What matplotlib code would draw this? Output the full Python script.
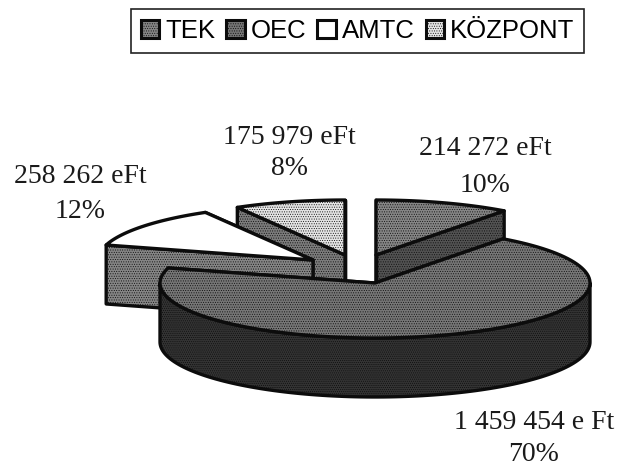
import numpy as np
import matplotlib
matplotlib.use('Agg')
import matplotlib.pyplot as plt
from matplotlib.patches import Polygon, Patch

# adatok
categories = ['TEK', 'OEC', 'AMTC', 'KÖZPONT']
values = [214272, 1459454, 258262, 175979]
amount_labels = ['214 272 eFt', '1 459 454 e Ft', '258 262 eFt', '175 979 eFt']
pct_labels = ['10%', '70%', '12%', '8%']

top_colors = ['#858585', '#767676', '#ffffff', '#e4e4e4']
side_colors = ['#525252', '#333333', '#858585', '#7c7c7c']
top_hatch = ['.......', '.......', None, '.......']
side_hatch = ['.......', '........', '.......', '.......']

# vetites
rx, ry, depth = 215, 55, 59
apex_x = [376, 375, 313, 345]
apex_y = [255, 283, 260, 255]
label_xy = [(485, 148), (534, 422), (80, 176), (289, 137)]
pct_xy = [(485, 185), (534, 454), (80, 211), (289, 168)]


def rim(cx, cy, a0, a1):
    a = np.radians(np.linspace(a0, a1, 120))
    return np.column_stack([cx + rx * np.sin(a), cy - ry * np.cos(a)])


def face(ax, pts, color, hatch):
    ax.add_patch(Polygon(pts, closed=True, facecolor=color, edgecolor='#0c0c0c',
                         hatch=hatch, linewidth=2.4, joinstyle='round'))


plt.rcParams['hatch.linewidth'] = 0.4
fig = plt.figure(figsize=(6.18, 4.65), dpi=100)
ax = fig.add_axes([0, 0, 1, 1])
ax.set_xlim(0, 618)
ax.set_ylim(465, 0)
ax.axis('off')

angles = np.array(values) / sum(values) * 360
ends = np.cumsum(angles)
starts = ends - angles

for i in [3, 2, 0, 1]:
    cx, cy = apex_x[i], apex_y[i]
    a0, a1 = starts[i], ends[i]
    arc = rim(cx, cy, a0, a1)
    down = np.array([0, depth])
    apex = np.array([cx, cy])
    # vagott oldalak
    for p in (arc[-1], arc[0]):
        face(ax, [apex, p, p + down, apex + down], side_colors[i], side_hatch[i])
    # elulso palast
    lo, hi = max(a0, 90), min(a1, 270)
    if hi > lo:
        front = rim(cx, cy, lo, hi)
        face(ax, np.vstack([front, front[::-1] + down]), side_colors[i], side_hatch[i])
    face(ax, np.vstack([apex, arc]), top_colors[i], top_hatch[i])

for i in range(4):
    ax.text(*label_xy[i], amount_labels[i], family='Liberation Serif', fontsize=20,
            ha='center', va='center', color='#1a1a1a')
    ax.text(*pct_xy[i], pct_labels[i], family='Liberation Serif', fontsize=20,
            ha='center', va='center', color='#1a1a1a')

handles = [Patch(facecolor=top_colors[i], edgecolor='#0c0c0c', hatch=top_hatch[i],
                 linewidth=2.2) for i in range(4)]
leg = ax.legend(handles, categories, loc='upper left', bbox_to_anchor=(131 / 618, 1 - 9 / 465),
                ncol=4, frameon=True, fancybox=False, borderaxespad=0, columnspacing=0.42,
                handlelength=0.72, handleheight=0.72, handletextpad=0.24, borderpad=0.38,
                prop={'family': 'Liberation Sans', 'size': 18.5})
leg.get_frame().set_edgecolor('#222222')
leg.get_frame().set_linewidth(1.2)
leg.get_frame().set_alpha(1)

fig.savefig('out.png', dpi=100)
